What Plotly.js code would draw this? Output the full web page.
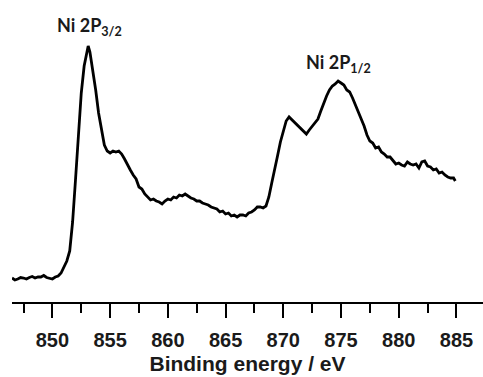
<!DOCTYPE html>
<html><head><meta charset="utf-8">
<script src="https://cdn.plot.ly/plotly-3.0.1.min.js"></script>
<style>html,body{margin:0;padding:0;background:#fff}#chart{width:483px;height:377px}</style>
</head><body><div id="chart"></div>
<script>
const energy = [846.5,846.75,847,847.25,847.5,847.75,848,848.25,848.5,848.75,849,849.25,849.5,849.75,850,850.25,850.5,850.75,851,851.25,851.5,851.75,852,852.25,852.5,852.75,853,853.1,853.25,853.5,853.75,854,854.25,854.5,854.75,855,855.25,855.5,855.75,856,856.25,856.5,856.75,857,857.25,857.5,857.75,858,858.25,858.5,858.75,859,859.25,859.5,859.75,860,860.25,860.5,860.75,861,861.25,861.5,861.75,862,862.25,862.5,862.75,863,863.25,863.5,863.75,864,864.25,864.5,864.75,865,865.25,865.5,865.75,866,866.25,866.5,866.75,867,867.25,867.5,867.75,868,868.25,868.5,868.75,869,869.25,869.5,869.75,870,870.25,870.5,870.75,871,871.25,871.5,871.75,872,872.25,872.5,872.75,873,873.25,873.5,873.75,874,874.25,874.5,874.75,875,875.25,875.5,875.75,876,876.25,876.5,876.75,877,877.25,877.5,877.75,878,878.25,878.5,878.75,879,879.25,879.5,879.75,880,880.25,880.5,880.75,881,881.25,881.5,881.75,882,882.25,882.5,882.75,883,883.25,883.5,883.75,884,884.25,884.5,884.75,884.9];
const intensity = [2200,2000,2100,2250,2200,2100,2250,2350,2200,2300,2300,2450,2250,2150,2100,2300,2400,2700,3300,3900,4900,7800,12000,16500,20700,23400,25100,25400,24800,23100,21000,18700,16900,15500,14900,14700,14900,14800,14900,14600,14100,13500,13000,12500,12100,11300,11100,10600,10300,10000,10100,9900,9800,9600,9900,10100,10000,10300,10200,10500,10400,10600,10400,10200,10100,9900,9900,9700,9600,9500,9300,9200,9100,8800,8900,8600,8700,8400,8500,8300,8500,8500,8400,8700,8800,9000,9300,9300,9200,9400,10300,11700,12900,14400,15800,17000,17900,18300,18000,17700,17500,17100,16900,16600,17000,17400,17700,18100,18900,19700,20400,21000,21400,21600,21900,21700,21500,21000,20800,20200,19500,18800,18100,17400,16500,15900,15700,15200,15300,14800,14600,14300,14300,14000,13600,13700,13500,13400,13800,13600,13500,13600,13200,13800,13900,13400,13300,13000,13100,12700,12800,12500,12300,12200,12200,11900];
const tickValues = [850,855,860,865,870,875,880,885];
const tickLabels = ['850','855','860','865','870','875','880','885'];
const peakLabels = ['Ni 2P<sub>3/2</sub>','Ni 2P<sub>1/2</sub>'];
const peakLabelX = [853.2, 874.76];
const peakLabelY = [27400, 23700];
const xTitle = 'Binding energy / eV';

const trace = {x: energy, y: intensity, type:'scatter', mode:'lines',
  line:{color:'#000', width:2.8}, hoverinfo:'skip'};

const layout = {
  width:483, height:377,
  margin:{l:12, r:0, t:20, b:75},
  paper_bgcolor:'#fff', plot_bgcolor:'#fff',
  showlegend:false,
  xaxis:{range:[846.5,887.3], tickmode:'array', tickvals:tickValues, ticktext:tickLabels,
    ticks:'outside', ticklen:14, tickwidth:2, tickcolor:'#000',
    showline:true, linewidth:2, linecolor:'#000', showgrid:false, zeroline:false,
    ticklabelstandoff:5,
    tickfont:{family:'Liberation Sans, Arial', size:20, color:'#1a1a1a', weight:700},
    minor:{dtick:2.5, tick0:847.5, ticks:'outside', ticklen:9, tickwidth:2, tickcolor:'#000', showgrid:false},
    title:{text:xTitle, standoff:6, font:{family:'Liberation Sans, Arial', size:21, color:'#1a1a1a', weight:700}}},
  yaxis:{visible:false, range:[-200,28000], fixedrange:true},
  annotations: peakLabels.map((t,i)=>({x:peakLabelX[i], y:peakLabelY[i], text:t, showarrow:false,
    xref:'x', yref:'y', font:{family:'Lato, Open Sans', size:18, color:'#1a1a1a', weight:700}}))
};
Plotly.newPlot('chart',[trace],layout,{staticPlot:true});
</script></body></html>
